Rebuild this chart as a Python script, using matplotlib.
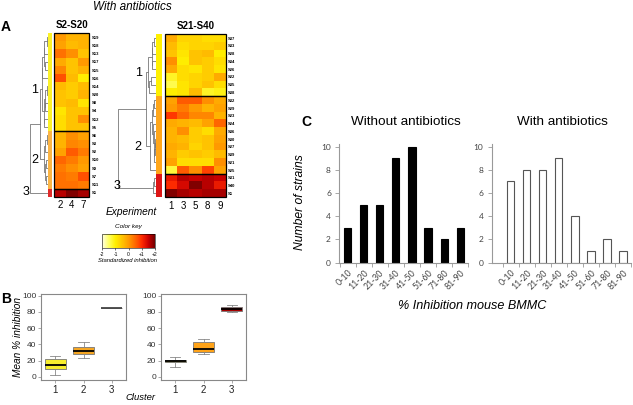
import numpy as np
import matplotlib
matplotlib.use('Agg')
import matplotlib.pyplot as plt
from matplotlib.colors import LinearSegmentedColormap, Normalize
from matplotlib.patches import Rectangle
from matplotlib.cm import ScalarMappable

plt.rcParams['font.family'] = ['Liberation Sans', 'DejaVu Sans']

W, H = 633, 405

# ---------------- panel A : heatmaps ----------------
left_rows = ['S19', 'S18', 'S13', 'S17', 'S15', 'S16', 'S14', 'S20', 'S8', 'S4', 'S12', 'S5',
             'S6', 'S3', 'S2', 'S10', 'S9', 'S7', 'S11', 'S1']
left_cols = ['2', '4', '7']
left_clusters = [1] * 12 + [2] * 7 + [3]
left_vals = np.array([
    [0.0, -0.3, -0.3], [-0.1, -0.4, -0.3], [0.4, 0.1, -0.5], [-0.2, -0.5, 0.0],
    [0.2, -0.5, -0.3], [0.7, -0.4, -1.0], [-0.4, -0.6, -0.4], [-0.5, -0.6, -0.3],
    [-0.5, -0.4, -0.9], [-0.9, -0.5, -0.5], [-0.8, -0.5, 0.1], [-0.8, -0.5, -0.5],
    [-0.3, 0.1, -0.1], [-0.3, 0.2, 0.1], [-0.1, 0.6, 0.3], [0.5, 0.3, 0.0],
    [0.3, 0.1, -0.1], [0.4, 0.3, 0.7], [0.4, 0.4, 0.3], [1.6, 1.9, 1.7]])
left_cluster_h = [0.33, 0.23, 0.0]     # height of each cluster root (fraction of tree)
left_merge_h = [0.47, 1.0]             # (1,2) merge, root merge

right_rows = ['S37', 'S33', 'S28', 'S34', 'S26', 'S22', 'S35', 'S38',
              'S32', 'S29', 'S23', 'S24', 'S36', 'S30', 'S27', 'S39', 'S21', 'S25',
              'S31', 'S40', 'S1']
right_cols = ['1', '3', '5', '8', '9']
right_clusters = [1] * 8 + [2] * 10 + [3] * 3
right_vals = np.array([
    [-0.2, -0.7, -0.7, -0.8, -0.8], [-0.4, -0.8, -0.7, -0.7, -0.6],
    [-0.5, -0.9, -0.5, -0.4, -1.0], [0.1, -1.0, -0.5, -0.6, -0.8],
    [-0.2, -0.8, -0.9, -0.6, -0.9], [-1.2, -0.8, -0.7, -0.6, -0.2],
    [-1.4, -0.9, -0.7, -0.5, -0.8], [-1.0, -0.9, -0.4, -1.2, -1.1],
    [-0.1, 0.6, 0.6, 0.1, -0.2], [0.0, 0.3, 0.0, -0.3, -0.1],
    [0.9, 0.5, 0.2, 0.2, -0.3], [-0.2, -0.3, -0.4, -0.1, 0.5],
    [-0.3, 0.1, -0.6, -0.8, -0.2], [-0.3, -0.4, -0.6, -0.5, -0.1],
    [-0.2, -0.3, -0.7, -0.5, 0.0], [-0.3, -0.6, -0.5, -0.6, -0.4],
    [-0.1, -0.8, -0.8, -0.8, 0.1], [-1.3, 0.6, 0.1, 0.8, -0.1],
    [1.2, 1.6, 1.5, 1.6, 1.5], [1.0, 1.4, 1.9, 1.6, 1.2], [1.9, 1.7, 1.6, 1.7, 1.7]])
right_cluster_h = [0.22, 0.15, 0.07]
right_merge_h = [0.27, 1.0]

left_side_colors = ['#fbf22a', '#fbb545', '#e02a2a']
right_side_colors = ['#fff000', '#ffa61a', '#dd1515']

# ---------------- panel B : boxplots ----------------
box_left = dict(med=[15, 32, 85], q1=[9, 28, 85], q3=[22, 37, 85],
                whislo=[2, 23, 85], whishi=[26, 43, 85])
box_right = dict(med=[19.5, 34, 83], q1=[18, 31, 81.5], q3=[21, 43, 85.5],
                 whislo=[12, 28, 80], whishi=[24, 47, 88])
box_left_colors = ['#f7ee2e', '#f5a623', '#444444']
box_right_colors = ['#9c9a14', '#ffa318', '#a80000']

# ---------------- panel C : histograms ----------------
bins = ['0-10', '11-20', '21-30', '31-40', '41-50', '51-60', '71-80', '81-90']
without_ab = [3, 5, 5, 9, 10, 3, 2, 3]
with_ab = [7, 8, 8, 9, 4, 1, 2, 1]

heat = LinearSegmentedColormap.from_list('heat', [
    (0.0, '#ffffe0'), (0.125, '#ffff60'), (0.25, '#ffee00'), (0.375, '#ffc400'),
    (0.5, '#ff9a00'), (0.625, '#ff6800'), (0.75, '#ff2c00'), (0.875, '#cc0000'),
    (1.0, '#700000')])
norm = Normalize(-2, 2)

fig = plt.figure(figsize=(W / 100, H / 100), dpi=100)


def add_ax(x0, y0, x1, y1):
    return fig.add_axes([x0 / W, 1 - y1 / H, (x1 - x0) / W, (y1 - y0) / H])


def ftext(x, y, s, **kw):
    kw.setdefault('ha', 'center')
    kw.setdefault('va', 'center')
    fig.text(x / W, 1 - y / H, s, **kw)


def adj_tree(X):
    # order preserving average linkage (only neighbours merge)
    groups = [[i] for i in range(len(X))]
    nodes = [(float(i), 0.0) for i in range(len(X))]
    segs = []
    while len(groups) > 1:
        d = [np.mean([np.linalg.norm(X[a] - X[b]) for a in groups[k] for b in groups[k + 1]])
             for k in range(len(groups) - 1)]
        k = int(np.argmin(d))
        (y1, h1), (y2, h2) = nodes[k], nodes[k + 1]
        h = max(d[k], h1, h2) + 1e-3
        segs.append([(h1, y1), (h, y1), (h, y2), (h2, y2)])
        groups[k:k + 2] = [groups[k] + groups[k + 1]]
        nodes[k:k + 2] = [((y1 + y2) / 2, h)]
    return segs, nodes[0]


def heatmap(box, side_box, dendro_box, vals, rows, cols, clusters, side_colors,
            cluster_h, merge_h, title):
    n = len(rows)
    ax = add_ax(*box)
    ax.imshow(vals, cmap=heat, norm=norm, aspect='auto', interpolation='nearest')
    ax.set_xticks(range(len(cols)))
    ax.set_xticklabels(cols, fontsize=7)
    ax.set_yticks(range(n))
    ax.set_yticklabels(rows, fontsize=3, fontweight='bold')
    ax.yaxis.tick_right()
    ax.tick_params(length=0, pad=1.5)
    ax.tick_params(axis='x', pad=2.5)
    for s in ax.spines.values():
        s.set_visible(False)
    ax.set_title(title, fontsize=7, fontweight='bold', pad=4)
    cl = np.array(clusters)
    starts = []
    for c in (1, 2, 3):
        idx = np.where(cl == c)[0]
        starts.append(idx)
        ax.add_patch(Rectangle((-0.5, idx[0] - 0.5), len(cols), len(idx), fill=False,
                               ec='black', lw=0.9, clip_on=False))
    # side bar
    sx = add_ax(*side_box)
    sx.imshow(np.array([[matplotlib.colors.to_rgb(side_colors[c - 1])] for c in clusters]),
              aspect='auto', interpolation='nearest')
    sx.axis('off')
    # dendrogram
    dx = add_ax(*dendro_box)
    cnodes = []
    for c, idx in zip((1, 2, 3), starts):
        if len(idx) == 1:
            cnodes.append((float(idx[0]), 0.0))
            continue
        segs, (ry, rh) = adj_tree(vals[idx])
        sc = cluster_h[c - 1] / rh
        for sg in segs:
            xs = [p[0] * sc for p in sg]
            ys = [p[1] + idx[0] for p in sg]
            dx.plot(xs, ys, color='#777777', lw=0.6)
        cnodes.append((ry + idx[0], cluster_h[c - 1]))
    (y1, h1), (y2, h2), (y3, h3) = cnodes
    dx.plot([h1, merge_h[0], merge_h[0], h2], [y1, y1, y2, y2], color='#777777', lw=0.6)
    y12 = (y1 + y2) / 2
    dx.plot([merge_h[0], merge_h[1], merge_h[1], h3], [y12, y12, y3, y3], color='#777777', lw=0.6)
    dx.set_xlim(1.0, 0)
    dx.set_ylim(n - 0.5, -0.5)
    dx.axis('off')


heatmap((54, 33.3, 89.3, 196.7), (48.3, 33.3, 52.3, 196.7), (30, 33.3, 48, 196.7),
        left_vals, left_rows, left_cols, left_clusters, left_side_colors,
        left_cluster_h, left_merge_h, 'S2-S20')
heatmap((165, 34.3, 226, 197.3), (156, 34.3, 161.7, 197.3), (118, 34.3, 156, 197.3),
        right_vals, right_rows, right_cols, right_clusters, right_side_colors,
        right_cluster_h, right_merge_h, 'S21-S40')

for x, y, s in [(35, 90, '1'), (35, 160, '2'), (26, 192, '3'),
                (139, 73, '1'), (138, 147, '2'), (117, 186, '3')]:
    ftext(x, y, s, fontsize=9)

ftext(132, 7, 'With antibiotics', fontsize=8.5, style='italic')
ftext(6, 27, 'A', fontsize=10, fontweight='bold')
ftext(131, 212, 'Experiment', fontsize=7.3, style='italic')

# colour key
cax = add_ax(102.3, 234.3, 155, 248.3)
cb = fig.colorbar(ScalarMappable(norm=norm, cmap=heat), cax=cax, orientation='horizontal')
cb.set_ticks([-2, -1, 0, 1, 2])
cb.set_ticklabels(['-2', '-1', '0', '+1', '+2'])
cax.tick_params(labelsize=3.6, length=1.5, width=0.4, pad=1)
cb.outline.set_linewidth(0.4)
ftext(128, 227, 'Color key', fontsize=4.6, style='italic')
ftext(128, 261, 'Standardized inhibition', fontsize=4.2, style='italic')

# ---------------- panel B ----------------
def boxes(box, stats, colors):
    ax = add_ax(*box)
    bst = [dict(med=stats['med'][i], q1=stats['q1'][i], q3=stats['q3'][i],
                whislo=stats['whislo'][i], whishi=stats['whishi'][i], fliers=[])
           for i in range(3)]
    art = ax.bxp(bst, positions=[1, 2, 3], widths=0.75, patch_artist=True,
                 medianprops=dict(color='black', lw=1.3),
                 whiskerprops=dict(color='#888888', lw=0.6),
                 capprops=dict(color='#888888', lw=0.6),
                 boxprops=dict(lw=0.6, edgecolor='#777777'))
    for p, c in zip(art['boxes'], colors):
        p.set_facecolor(c)
    for m, c in zip(art['medians'], colors):
        if c == '#444444':
            m.set_color(c)
    for cap in art['caps']:
        xd = cap.get_xdata()
        mid = xd.mean()
        cap.set_xdata([mid - 0.18, mid + 0.18])
    ax.set_xlim(0.5, 3.5)
    ax.set_ylim(-4, 102)
    ax.set_yticks([0, 20, 40, 60, 80, 100])
    ax.set_xticks([1, 2, 3])
    ax.set_xticklabels(['1', '2', '3'])
    ax.tick_params(axis='y', labelsize=6, length=2, width=0.5, color='#888888',
                   labelcolor='#333333', pad=1.5)
    ax.tick_params(axis='x', labelsize=7, length=2, width=0.5, color='#888888',
                   labelcolor='#222222', pad=1.5)
    for s in ax.spines.values():
        s.set_color('#888888')
        s.set_linewidth(0.8)


boxes((41, 294, 126, 380), box_left, box_left_colors)
boxes((161, 294, 246, 380), box_right, box_right_colors)
ftext(6, 299, 'B', fontsize=10, fontweight='bold')
ftext(18, 337, 'Mean % inhibition', fontsize=7.3, style='italic', rotation=90)
ftext(140, 398, 'Cluster', fontsize=6.8, style='italic')

# ---------------- panel C ----------------
def hist(box, xlim, counts, face, edge):
    ax = add_ax(*box)
    x = np.arange(len(bins))
    ax.bar(x, counts, width=0.45, color=face, edgecolor=edge, lw=0.8)
    ax.set_xlim(*xlim)
    ax.set_ylim(0, 10.2)
    ax.set_yticks([0, 2, 4, 6, 8, 10])
    ax.set_xticks(x)
    ax.set_xticklabels(bins, rotation=45, ha='right', rotation_mode='anchor')
    ax.set_xticks(np.arange(len(bins) + 1) - 0.5, minor=True)
    for s in ('top', 'right'):
        ax.spines[s].set_visible(False)
    for s in ('left', 'bottom'):
        ax.spines[s].set_color('#999999')
        ax.spines[s].set_linewidth(0.8)
    ax.tick_params(axis='y', labelsize=6, length=3, width=0.6, color='#999999',
                   labelcolor='#444444', pad=3)
    ax.tick_params(axis='x', which='major', labelsize=6.3, length=0, labelcolor='#444444', pad=4)
    ax.tick_params(axis='x', which='minor', length=3, width=0.6, color='#999999')
    for t in ax.get_xticklabels() + ax.get_yticklabels():
        t.set_fontfamily(['Lato', 'DejaVu Sans'])
    return ax


hist((339.3, 144.3, 468.3, 262.7), (-0.515, 7.4), without_ab, 'black', 'black')
hist((491.7, 144.3, 631, 262.7), (-1.19, 7.4), with_ab, 'white', '#555555')
ftext(406, 122, 'Without antibiotics', fontsize=9.7)
ftext(562, 122, 'With antibiotics', fontsize=9.7)
ftext(306, 122, 'C', fontsize=10, fontweight='bold')
ftext(300, 202, 'Number of strains', fontsize=8.7, style='italic', rotation=90)
ftext(472, 306, '% Inhibition mouse BMMC', fontsize=9.1, style='italic')

fig.savefig('out.png', dpi=100)
